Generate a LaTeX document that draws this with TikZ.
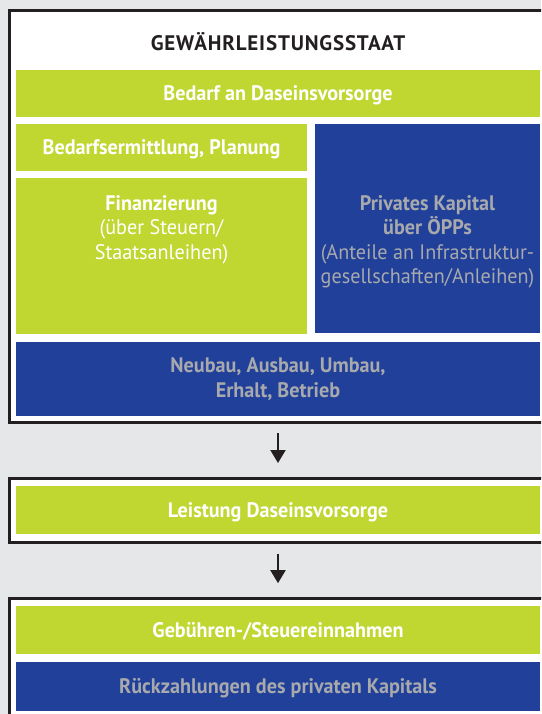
\documentclass[tikz,border=0pt]{standalone}
\usepackage{fontspec}
\setmainfont{PT Sans}[FakeStretch=0.96]
\newfontfamily\titelschrift{PT Sans}[LetterSpace=4]
\usepackage{xcolor}
\usetikzlibrary{positioning, arrows.meta}

\definecolor{grund}{HTML}{E6E7E8}
\definecolor{dunkel}{HTML}{231F20}
\definecolor{gruen}{HTML}{BFD730}
\definecolor{blau}{HTML}{21409A}
\definecolor{grau}{HTML}{A7A9AC}

\tikzset{
	rahmen/.style={draw=dunkel, line width=3pt, fill=white, inner sep=0pt},
	balken/.style={inner sep=0pt, align=center, font=\fontsize{21}{24.5}\selectfont\bfseries},
	gruenbalken/.style={balken, fill=gruen, text=white},
	blaubalken/.style={balken, fill=blau, text=grau},
	zeile/.style={text height=14.5pt, text depth=0pt},
	titel/.style={zeile, inner sep=0pt, text=dunkel, font=\titelschrift\fontsize{21}{24}\selectfont\bfseries},
	pfeil/.style={draw=dunkel, line width=2pt, -{Triangle[width=15pt, length=13pt]}, shorten <=9.5pt, shorten >=14pt}
}

\begin{document}
\begin{tikzpicture}[x=1pt, y=-1pt]
	\useasboundingbox (0,0) rectangle (541,714);
	\clip (0,0) rectangle (541,714);
	\fill[grund] (0,0) rectangle (541,714);
	
	\node[rahmen, minimum width=550.5pt, minimum height=411.5pt] (staat) at (284.75,216.25) {};
	\node[rahmen, minimum width=550.5pt, minimum height=64pt] (leistungsrahmen) at (284.75,510.5) {};
	\node[rahmen, minimum width=550.5pt, minimum height=141.3pt] (einnahmerahmen) at (284.75,669.35) {};
	
	\node[titel] (titel) at (278,43.7) {GEWÄHRLEISTUNGSSTAAT};
	\node[gruenbalken, zeile, minimum width=524pt, minimum height=47pt] (bedarf) at (278,93.5) {Bedarf an Daseinsvorsorge};
	\node[gruenbalken, zeile, minimum width=291pt, minimum height=46.7pt] (ermittlung) at (161.5,147.3) {Bedarfsermittlung, Planung};
	\node[gruenbalken, minimum width=291pt, minimum height=156pt] (finanz) at (161.5,256) {};
	\node[blaubalken, minimum width=225pt, minimum height=209.3pt] (privat) at (427.5,228.7) {};
	\node[blaubalken, minimum width=524pt, minimum height=73.7pt] (neubau) at (278,378.9) {Neubau, Ausbau, Umbau,\\Erhalt, Betrieb};
	\node[balken, text=white, below=17.5pt of finanz.north] (fintext) {Finanzierung\\\mdseries(über Steuern/\\\mdseries Staatsanleihen)};
	\node[balken, text=grau, anchor=north] (privtext) at (privat.north |- fintext.north) {Privates Kapital\\über ÖPPs\\\mdseries(Anteile an Infrastruktur-\\\mdseries gesellschaften/Anleihen)};
	
	\node[gruenbalken, zeile, minimum width=524pt, minimum height=48.3pt] (leistung) at (278,510.2) {Leistung Daseinsvorsorge};
	\node[gruenbalken, zeile, minimum width=524pt, minimum height=48.3pt] (gebuehren) at (278,630.2) {Gebühren-/Steuereinnahmen};
	\node[blaubalken, zeile, minimum width=524pt, minimum height=48.7pt] (rueckzahlung) at (278,686.4) {Rückzahlungen des privaten Kapitals};
	
	\foreach \von/\nach in {staat/leistungsrahmen, leistungsrahmen/einnahmerahmen}
	{
		\draw[pfeil] (bedarf.center |- \von.south) -- (bedarf.center |- \nach.north);
	}
\end{tikzpicture}
\end{document}
